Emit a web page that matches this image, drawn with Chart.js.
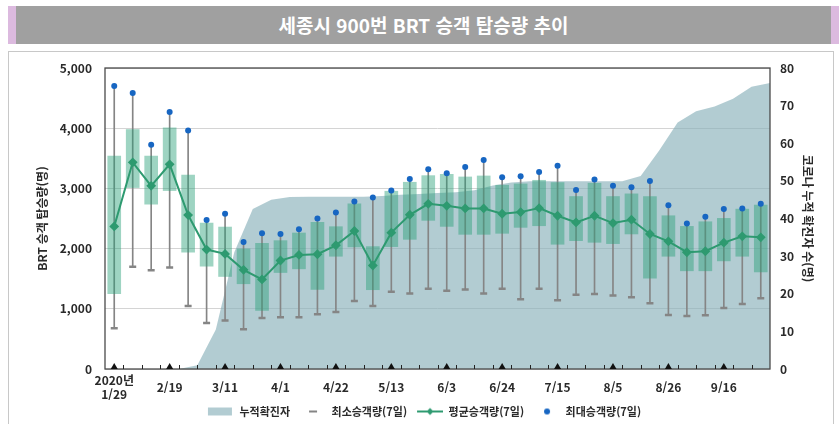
<!DOCTYPE html>
<html lang="ko">
<head>
<meta charset="utf-8">
<script src="https://cdn.jsdelivr.net/npm/chart.js@4.4.1/dist/chart.umd.min.js"></script>
<style>
  html, body { margin: 0; padding: 0; background: #fff; }
  body { width: 839px; height: 424px; position: relative; overflow: hidden; font-family: 'Noto Sans CJK KR', sans-serif; }
  .banner { position: absolute; left: 8px; top: 6px; width: 831px; height: 38px; box-sizing: border-box;
    background: #a0a0a0; border-left: 8px solid #dcbadf; border-right: 8px solid #dcbadf;
    color: #fff; font-weight: bold; font-size: 19px; line-height: 38px; text-align: center; }
  .panel { position: absolute; left: 8px; top: 51px; width: 826px; height: 380px; box-sizing: border-box; border: 1px solid #c8c8c8; }
  .wrap { position: absolute; left: 9px; top: 52px; width: 825px; height: 372px; }
</style>
</head>
<body>
<div class="banner">세종시 900번 BRT 승객 탑승량 추이</div>
<div class="panel"></div>
<div class="wrap"><canvas id="brtChart" width="825" height="372"></canvas></div>
<script>
// 주 단위 (7일) 구간
const weeks = [['2020년', '1/29'], '2/5', '2/12', '2/19', '2/26', '3/4', '3/11', '3/18', '3/25', '4/1', '4/8', '4/15',
  '4/22', '4/29', '5/6', '5/13', '5/20', '5/27', '6/3', '6/10', '6/17', '6/24', '7/1', '7/8',
  '7/15', '7/22', '7/29', '8/5', '8/12', '8/19', '8/26', '9/2', '9/9', '9/16', '9/23', '9/30'];

const maxRiders = [4700, 4584, 3725, 4270, 3962, 2474, 2579, 2110, 2254, 2243, 2320, 2502, 2601, 2783, 2849, 2964, 3157, 3317,
  3251, 3356, 3471, 3185, 3201, 3273, 3378, 2975, 3146, 3042, 3020, 3124, 2722, 2419, 2529, 2656, 2667, 2744];
const boxTop = [3537, 3978, 3537, 4006, 3223, 2424, 2358, 1995, 2088, 2132, 2259, 2435, 2364, 2744, 2033, 2953, 3102, 3212,
  3234, 3190, 3207, 3053, 3075, 3135, 3097, 2865, 3086, 2865, 2909, 2865, 2546, 2369, 2446, 2502, 2656, 2722];
const boxBottom = [1251, 3014, 2738, 2964, 1940, 1708, 1537, 1416, 975, 1603, 1664, 1322, 1873, 2028, 1317, 2033, 2154, 2469,
  2369, 2237, 2237, 2254, 2353, 2380, 2072, 2132, 2105, 2083, 2243, 1510, 1873, 1631, 1631, 1796, 1873, 1614];
const avgRiders = [2369, 3433, 3042, 3400, 2557, 1984, 1912, 1647, 1488, 1802, 1895, 1906, 2055, 2292, 1719, 2265, 2562, 2744,
  2711, 2667, 2667, 2579, 2606, 2672, 2546, 2435, 2546, 2424, 2480, 2243, 2121, 1940, 1956, 2099, 2204, 2187];
const minRiders = [678, 1697, 1642, 1686, 1047, 766, 804, 661, 849, 860, 860, 909, 948, 1130, 1047, 1284, 1256, 1333,
  1300, 1322, 1256, 1333, 1157, 1333, 1141, 1234, 1245, 1223, 1190, 1091, 898, 882, 893, 1014, 1080, 1174];

// 누적 확진자 (주 경계 기준, 37개)
const totalCases = [0, 0, 0, 0, 0, 1, 10.5, 31, 42.5, 45, 45.7, 45.8, 45.8, 45.8, 45.8, 46, 46.3, 46.5, 46.8, 47,
  47.5, 48.8, 49.6, 49.9, 49.9, 49.9, 49.9, 49.9, 49.9, 51.3, 58.1, 65.5, 68.5, 69.8, 71.8, 75, 76];

const AREA = 'rgba(137,177,186,0.65)';
const GREEN = '#2e9a70';
const BLUE = '#1766c2';
const GRAY = '#858585';
const TEXT = '#2a2a2a';

Chart.defaults.font.family = "'Noto Sans CJK KR', sans-serif";
Chart.defaults.color = TEXT;

// 범례 아이콘 (왼쪽 여백 포함)
function icon(draw) {
  const c = document.createElement('canvas');
  c.width = 32; c.height = 10;
  const g = c.getContext('2d');
  g.translate(6, 0);
  draw(g);
  return c;
}
const areaIcon = icon(g => { g.fillStyle = '#b2ccd2'; g.fillRect(0, 1, 24, 8); });
const minIcon = icon(g => { g.fillStyle = GRAY; g.fillRect(9, 4, 8, 2); });
const avgIcon = icon(g => {
  g.strokeStyle = GREEN; g.lineWidth = 2;
  g.beginPath(); g.moveTo(0, 5); g.lineTo(26, 5); g.stroke();
  g.fillStyle = GREEN;
  g.beginPath(); g.moveTo(13, 1.5); g.lineTo(16.5, 5); g.lineTo(13, 8.5); g.lineTo(9.5, 5); g.closePath(); g.fill();
});
const maxIcon = icon(g => { g.fillStyle = BLUE; g.beginPath(); g.arc(13, 5, 3, 0, Math.PI * 2); g.fill(); });

// 외곽선, 주 단위 눈금, 삼각형 표시
const framePlugin = {
  id: 'frame',
  afterDatasetsDraw(chart) {
    const { ctx, chartArea: a, scales: { x } } = chart;
    ctx.save();
    ctx.strokeStyle = '#4a4a4a';
    ctx.lineWidth = 1.3;
    ctx.strokeRect(a.left, a.top, a.right - a.left, a.bottom - a.top);
    ctx.strokeStyle = '#222';
    ctx.lineWidth = 1;
    for (let k = 1; k < weeks.length; k++) {
      const px = Math.round(x.getPixelForValue(k - 0.5)) + 0.5;
      ctx.beginPath(); ctx.moveTo(px, a.bottom); ctx.lineTo(px, a.bottom - 4); ctx.stroke();
    }
    ctx.fillStyle = '#111';
    weeks.forEach((w, i) => {
      if (i % 3) return;
      const px = x.getPixelForValue(i);
      ctx.beginPath();
      ctx.moveTo(px - 3.5, a.bottom); ctx.lineTo(px + 3.5, a.bottom); ctx.lineTo(px, a.bottom - 6);
      ctx.closePath(); ctx.fill();
    });
    ctx.restore();
  }
};

const ctx = document.getElementById('brtChart').getContext('2d');

new Chart(ctx, {
  data: {
    labels: weeks,
    datasets: [
      {
        type: 'line',
        label: '누적확진자',
        data: totalCases.map((v, k) => ({ x: k - 0.5, y: v })),
        xAxisID: 'x2',
        yAxisID: 'y2',
        fill: 'origin',
        backgroundColor: AREA,
        borderWidth: 0,
        pointRadius: 0,
        tension: 0,
        order: 6
      },
      {
        type: 'bar',
        label: 'range',
        data: minRiders.map((v, i) => [v, maxRiders[i]]),
        backgroundColor: GRAY,
        barThickness: 1,
        grouped: false,
        order: 5
      },
      {
        type: 'bar',
        label: 'box',
        data: boxBottom.map((v, i) => [v, boxTop[i]]),
        backgroundColor: 'rgba(40,160,120,0.45)',
        barThickness: 13,
        grouped: false,
        order: 4
      },
      {
        type: 'line',
        label: '최소승객량(7일)',
        data: minRiders,
        showLine: false,
        pointStyle: 'line',
        pointRadius: 3.5,
        pointBorderWidth: 2.5,
        borderColor: GRAY,
        order: 3
      },
      {
        type: 'line',
        label: '평균승객량(7일)',
        data: avgRiders,
        borderColor: GREEN,
        backgroundColor: GREEN,
        borderWidth: 2,
        pointStyle: 'rectRot',
        pointRadius: 3.5,
        tension: 0,
        order: 2
      },
      {
        type: 'line',
        label: '최대승객량(7일)',
        data: maxRiders,
        showLine: false,
        pointStyle: 'circle',
        pointRadius: 3,
        backgroundColor: BLUE,
        borderColor: BLUE,
        borderWidth: 0,
        order: 1
      }
    ]
  },
  options: {
    responsive: false,
    animation: false,
    layout: { padding: { left: 0, right: 0, top: 16, bottom: 0 } },
    plugins: {
      tooltip: { enabled: false },
      legend: {
        position: 'bottom',
        maxHeight: 22,
        labels: {
          usePointStyle: true,
          pointStyleWidth: 32,
          boxHeight: 10,
          padding: 4,
          font: { size: 11, weight: 'bold' },
          color: TEXT,
          generateLabels: () => [
            { text: '누적확진자', pointStyle: areaIcon },
            { text: '최소승객량(7일)', pointStyle: minIcon },
            { text: '평균승객량(7일)', pointStyle: avgIcon },
            { text: '최대승객량(7일)', pointStyle: maxIcon }
          ].map((it, i) => ({ ...it, datasetIndex: i, hidden: false, lineWidth: 0,
            fillStyle: 'transparent', strokeStyle: 'transparent', fontColor: TEXT }))
        }
      }
    },
    scales: {
      x: {
        type: 'category',
        offset: true,
        grid: { display: false, drawTicks: false },
        border: { display: false },
        ticks: {
          autoSkip: false,
          maxRotation: 0,
          crossAlign: 'center',
          padding: 11,
          font: { size: 12, weight: 'bold' },
          color: TEXT,
          callback(v, i) { return i % 3 === 0 ? this.getLabelForValue(v) : ''; }
        },
        afterFit(s) { s.height = 33; }
      },
      x2: {
        type: 'linear',
        display: false,
        min: -0.5,
        max: weeks.length - 0.5
      },
      y: {
        position: 'left',
        min: 0,
        max: 5000,
        ticks: {
          stepSize: 1000,
          padding: 13,
          font: { size: 12, weight: 'bold' },
          color: TEXT,
          callback: v => v.toLocaleString('en-US')
        },
        grid: { color: '#d4d4d4', drawTicks: false },
        border: { display: false },
        title: {
          display: true,
          text: 'BRT 승객 탑승량(명)',
          font: { size: 12, weight: 'bold' },
          color: TEXT,
          padding: { top: 26, bottom: 0 }
        },
        afterFit(s) { s.width = 96; s.paddingTop = 0; s.paddingBottom = 0; }
      },
      y2: {
        position: 'right',
        min: 0,
        max: 80,
        ticks: {
          stepSize: 10,
          padding: 10,
          font: { size: 12, weight: 'bold' },
          color: TEXT
        },
        grid: { drawOnChartArea: false, drawTicks: false },
        border: { display: false },
        title: {
          display: true,
          text: '코로나 누적 확진자 수(명)',
          font: { size: 12, weight: 'bold' },
          color: TEXT,
          padding: { top: 19, bottom: 0 }
        },
        afterFit(s) { s.width = 64; s.paddingTop = 0; s.paddingBottom = 0; }
      }
    }
  },
  plugins: [framePlugin]
});
</script>
</body>
</html>
